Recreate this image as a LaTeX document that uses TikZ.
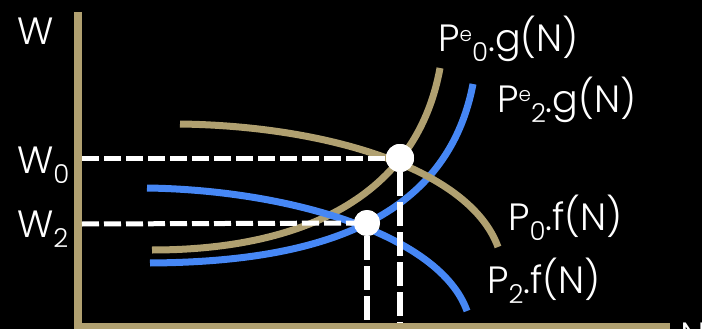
\documentclass[tikz,border=0pt]{standalone}
\usepackage{fontspec}
\setmainfont{Poppins}[UprightFont={* Light}]
\definecolor{axtan}{RGB}{176,160,112}
\definecolor{cblue}{RGB}{70,135,245}
\newcommand{\lsub}[1]{\raisebox{-10pt}{\fontsize{26}{26}\selectfont #1}}
\newcommand{\lsupe}[1]{\raisebox{10pt}{\fontsize{20}{20}\selectfont #1}}
\begin{document}
\begin{tikzpicture}[x=1pt,y=-1pt,
  axisline/.style={draw=axtan,line width=8pt},
  tancurve/.style={draw=axtan,line width=7pt},
  bluecurve/.style={draw=cblue,line width=7pt},
  hdash/.style={draw=white,line width=5pt,dash pattern=on 17pt off 5pt},
  vdash/.style={draw=white,line width=5.5pt,dash pattern=on 24pt off 6pt},
  dot/.style={circle,fill=white,inner sep=0pt,minimum size=#1},
  lbl/.style={text=white,anchor=base west,inner sep=0pt,font=\fontsize{38}{40}\selectfont}]
\fill[black] (0,0) rectangle (702,329);
\useasboundingbox (0,0) rectangle (702,329);
% axes
\coordinate (top) at (78,12);
\coordinate (corner) at (78,327);
\coordinate (right) at (670,327);
\draw[axisline] (top) -- (corner) -- (right);
% curves
\draw[tancurve] (152,250) .. controls (290,250) and (415,205) .. (440,68);
\draw[bluecurve] (150,263) .. controls (300,262) and (445,230) .. (473,84);
\draw[tancurve] (180,124) .. controls (330,126) and (470,170) .. (498,247);
\draw[bluecurve] (147,188) .. controls (290,190) and (440,235) .. (467,311);
% dots
\node[dot=28pt] (d1) at (400,158) {};
\node[dot=26pt] (d2) at (367,223) {};
\coordinate (w0) at (82,158);
\coordinate (w2) at (82,224);
\coordinate (n1) at (400,323);
\coordinate (n2) at (367,323);
\draw[hdash] (w0) -- (d1.center);
\draw[hdash] (w2) -- (d2.center);
\draw[vdash] (d1.south) -- (n1);
\draw[vdash] (d2.south) -- (n2);
\node[dot=28pt] at (d1) {};
\node[dot=26pt] at (d2) {};
% labels
\node[lbl] (lw) at (17,45) {W};
\node[lbl] (lw0) at (17,173) {W\lsub{0}};
\node[lbl] (lw2) at (17,237) {W\lsub{2}};
\node[lbl] (lg0) at (438,52) {P\lsupe{e}\lsub{0}.g(N)};
\node[lbl] (lg2) at (497,112) {P\lsupe{e}\lsub{2}.g(N)};
\node[lbl] (lf0) at (508,230) {P\lsub{0}.f(N)};
\node[lbl] (lf2) at (487,293) {P\lsub{2}.f(N)};
\node[lbl,anchor=north west] (ln) at (680,323) {N};
\end{tikzpicture}
\end{document}
